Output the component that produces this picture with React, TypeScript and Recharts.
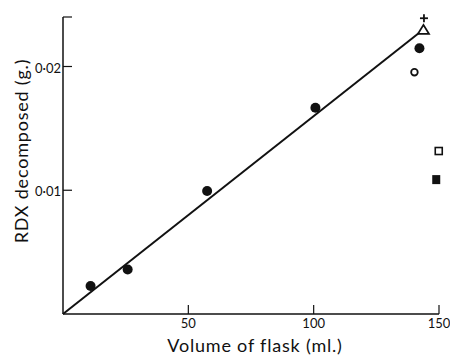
import React from "react";
import { ScatterChart, Scatter, XAxis, YAxis, Label } from "recharts";

// fitted straight line through the origin
const fitX = [0, 142];
const fitY = [0, 0.0227];

// experimental points (volume ml, RDX g)
const dotX = [11, 25.8, 57.5, 100.7, 142.2];
const dotY = [0.00226, 0.0036, 0.00994, 0.01667, 0.02148];
const openCircleX = [140.2];
const openCircleY = [0.01954];
const triangleX = [143.8];
const triangleY = [0.02296];
const plusX = [144];
const plusY = [0.0239];
const openSquareX = [149.9];
const openSquareY = [0.01317];
const filledSquareX = [148.9];
const filledSquareY = [0.01086];

const xTicks = [50, 100, 150];
const yTicks = [0.01, 0.02, 0.024];
const yTickLabels: Record<string, string> = { "0.01": "0·01", "0.02": "0·02" };

const zip = (xs: number[], ys: number[]) => xs.map((x, i) => ({ x, y: ys[i] }));

const INK = "#111";
const FONT = "Lato, 'Open Sans', sans-serif";

const XTick = ({ x, y, payload }: any) => (
    <g>
        <line x1={x} x2={x} y1={y} y2={y - 9} stroke={INK} strokeWidth={1.2} />
        <text x={x} y={y + 14} textAnchor="middle" fontSize={13} fill={INK} fontFamily={FONT}>
            {payload.value}
        </text>
    </g>
);

const YTick = ({ x, y, payload }: any) => (
    <g>
        <line x1={x} x2={x + 9} y1={y} y2={y} stroke={INK} strokeWidth={1.2} />
        <text x={x - 2} y={y + 6} textAnchor="end" fontSize={13} fill={INK} fontFamily={FONT}>
            {yTickLabels[String(payload.value)] ?? ""}
        </text>
    </g>
);

const Dot = ({ cx, cy }: any) => <circle cx={cx} cy={cy} r={5} fill={INK} />;
const OpenCircle = ({ cx, cy }: any) => (
    <circle cx={cx} cy={cy} r={3.3} fill="#fff" stroke={INK} strokeWidth={1.8} />
);
const Triangle = ({ cx, cy }: any) => (
    <polygon
        points={`${cx},${cy - 5} ${cx - 5.5},${cy + 4} ${cx + 5.5},${cy + 4}`}
        fill="#fff"
        stroke={INK}
        strokeWidth={1.8}
    />
);
const Plus = ({ cx, cy }: any) => (
    <g stroke={INK} strokeWidth={1.8}>
        <line x1={cx - 4} x2={cx + 4} y1={cy} y2={cy} />
        <line x1={cx} x2={cx} y1={cy - 4} y2={cy + 4} />
    </g>
);
const OpenSquare = ({ cx, cy }: any) => (
    <rect x={cx - 3.5} y={cy - 3.5} width={7} height={7} fill="#fff" stroke={INK} strokeWidth={1.6} />
);
const FilledSquare = ({ cx, cy }: any) => (
    <rect x={cx - 4} y={cy - 4.5} width={8} height={9} fill={INK} />
);

export default function App() {
    return (
        <div style={{ position: "absolute", left: 0, top: 0, background: "#fff", fontFamily: FONT }}>
            <ScatterChart
                width={450}
                height={357}
                margin={{ top: 17, right: 11, bottom: 0, left: 0 }}
            >
                <XAxis
                    type="number"
                    dataKey="x"
                    domain={[0, 150]}
                    ticks={xTicks}
                    interval={0}
                    height={43}
                    tickLine={false}
                    tickSize={0}
                    tickMargin={0}
                    tick={<XTick />}
                    axisLine={{ stroke: INK, strokeWidth: 1.5 }}
                >
                    <Label
                        content={({ viewBox }: any) => (
                            <text
                                x={viewBox.x + viewBox.width / 2 + 4}
                                y={viewBox.y + 38}
                                textAnchor="middle"
                                fontSize={18}
                                letterSpacing={0.8}
                                fill={INK}
                                fontFamily={FONT}
                            >
                                Volume of flask (ml.)
                            </text>
                        )}
                    />
                </XAxis>
                <YAxis
                    type="number"
                    dataKey="y"
                    domain={[0, 0.024]}
                    ticks={yTicks}
                    interval={0}
                    width={63}
                    tickLine={false}
                    tickSize={0}
                    tickMargin={0}
                    tick={<YTick />}
                    axisLine={{ stroke: INK, strokeWidth: 1.5 }}
                >
                    <Label
                        content={() => (
                            <text
                                x={0}
                                y={0}
                                transform="translate(28, 151) rotate(-90)"
                                textAnchor="middle"
                                fontSize={18}
                                letterSpacing={0.8}
                                fill={INK}
                                fontFamily={FONT}
                            >
                                RDX decomposed (g.)
                            </text>
                        )}
                    />
                </YAxis>
                <Scatter
                    data={zip(fitX, fitY)}
                    line={{ stroke: INK, strokeWidth: 2 }}
                    shape={() => <g />}
                    isAnimationActive={false}
                />
                <Scatter data={zip(dotX, dotY)} shape={Dot} isAnimationActive={false} />
                <Scatter data={zip(openCircleX, openCircleY)} shape={OpenCircle} isAnimationActive={false} />
                <Scatter data={zip(triangleX, triangleY)} shape={Triangle} isAnimationActive={false} />
                <Scatter data={zip(plusX, plusY)} shape={Plus} isAnimationActive={false} />
                <Scatter data={zip(openSquareX, openSquareY)} shape={OpenSquare} isAnimationActive={false} />
                <Scatter data={zip(filledSquareX, filledSquareY)} shape={FilledSquare} isAnimationActive={false} />
            </ScatterChart>
        </div>
    );
}
